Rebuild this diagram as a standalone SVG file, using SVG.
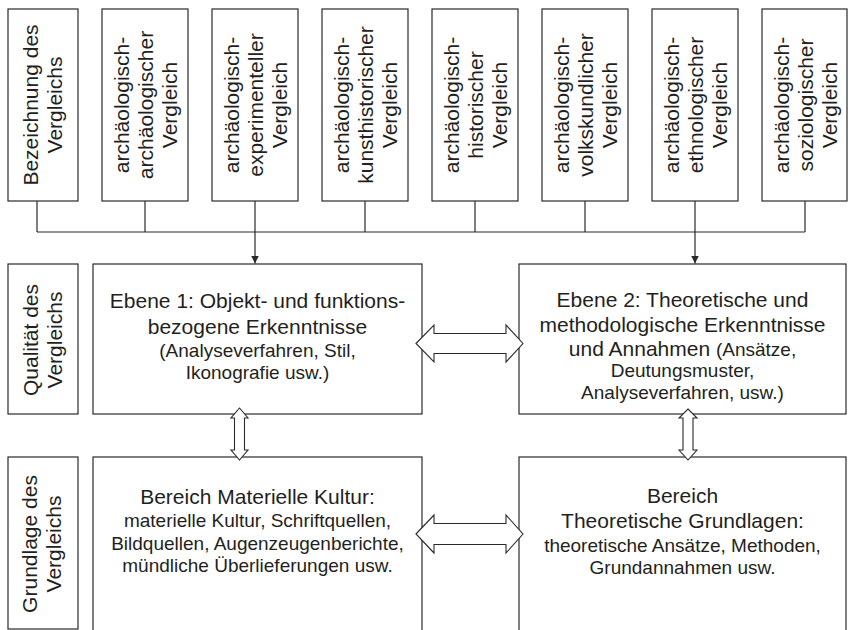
<svg xmlns="http://www.w3.org/2000/svg" width="848" height="630" viewBox="0 0 848 630">
<defs>
<style>
.box{fill:#fff;stroke:#2a2a2a;stroke-width:1.2}
.ln{fill:none;stroke:#2a2a2a;stroke-width:1.2}
.dbl{fill:#fff;stroke:#2a2a2a;stroke-width:1.1;stroke-linejoin:miter}
text{font-family:"Liberation Sans",Arial,Helvetica,sans-serif;fill:#231f20;text-anchor:middle}
.t21{font-size:21px}
.t19{font-size:19px}
</style>
<marker id="ah" markerWidth="10" markerHeight="10" refX="8" refY="4" orient="auto" markerUnits="userSpaceOnUse">
<path d="M0,0 L8,4 L0,8 Z" fill="#2a2a2a"/>
</marker>
</defs>
<rect width="848" height="630" fill="#fff"/>

<g id="top-bezeichnung"><rect class="box" x="8" y="9" width="70" height="192"/>
<text class="t21" transform="translate(43,105) rotate(-90)"><tspan x="0" y="-5">Bezeichnung des</tspan><tspan x="0" y="19">Vergleichs</tspan></text></g>
<g id="top-archaeologisch"><rect class="box" x="102" y="9" width="86" height="192"/>
<text class="t21" transform="translate(145,105) rotate(-90)"><tspan x="0" y="-16">archäologisch-</tspan><tspan x="0" y="8">archäologischer</tspan><tspan x="0" y="32">Vergleich</tspan></text></g>
<g id="top-experimentell"><rect class="box" x="212" y="9" width="86" height="192"/>
<text class="t21" transform="translate(255,105) rotate(-90)"><tspan x="0" y="-16">archäologisch-</tspan><tspan x="0" y="8">experimenteller</tspan><tspan x="0" y="32">Vergleich</tspan></text></g>
<g id="top-kunsthistorisch"><rect class="box" x="322" y="9" width="86" height="192"/>
<text class="t21" transform="translate(365,105) rotate(-90)"><tspan x="0" y="-16">archäologisch-</tspan><tspan x="0" y="8">kunsthistorischer</tspan><tspan x="0" y="32">Vergleich</tspan></text></g>
<g id="top-historisch"><rect class="box" x="432" y="9" width="86" height="192"/>
<text class="t21" transform="translate(475,105) rotate(-90)"><tspan x="0" y="-16">archäologisch-</tspan><tspan x="0" y="8">historischer</tspan><tspan x="0" y="32">Vergleich</tspan></text></g>
<g id="top-volkskundlich"><rect class="box" x="542" y="9" width="86" height="192"/>
<text class="t21" transform="translate(585,105) rotate(-90)"><tspan x="0" y="-16">archäologisch-</tspan><tspan x="0" y="8">volkskundlicher</tspan><tspan x="0" y="32">Vergleich</tspan></text></g>
<g id="top-ethnologisch"><rect class="box" x="652" y="9" width="86" height="192"/>
<text class="t21" transform="translate(695,105) rotate(-90)"><tspan x="0" y="-16">archäologisch-</tspan><tspan x="0" y="8">ethnologischer</tspan><tspan x="0" y="32">Vergleich</tspan></text></g>
<g id="top-soziologisch"><rect class="box" x="762" y="9" width="85" height="192"/>
<text class="t21" transform="translate(805,105) rotate(-90)"><tspan x="0" y="-16">archäologisch-</tspan><tspan x="0" y="8">soziologischer</tspan><tspan x="0" y="32">Vergleich</tspan></text></g>

<g id="qualitaet"><rect class="box" x="8" y="264" width="70" height="150"/>
<text class="t21" transform="translate(43,340) rotate(-90)"><tspan x="0" y="-5">Qualität des</tspan><tspan x="0" y="19">Vergleichs</tspan></text></g>
<g id="ebene1"><rect class="box" x="93" y="264" width="329" height="150"/>
<text x="257.5" y="308" class="t21">Ebene 1: Objekt- und funktions-</text>
<text x="257.5" y="334" class="t21">bezogene Erkenntnisse</text>
<text x="257.5" y="357" class="t19">(Analyseverfahren, Stil,</text>
<text x="257.5" y="379" class="t19">Ikonografie usw.)</text></g>
<g id="ebene2"><rect class="box" x="519" y="264" width="327" height="150"/>
<text x="682.5" y="307" class="t21">Ebene 2: Theoretische und</text>
<text x="682.5" y="332" class="t21">methodologische Erkenntnisse</text>
<text x="682.5" y="356" class="t21">und Annahmen <tspan class="t19">(Ansätze,</tspan></text>
<text x="682.5" y="377" class="t19">Deutungsmuster,</text>
<text x="682.5" y="399" class="t19">Analyseverfahren, usw.)</text></g>

<g id="grundlage"><rect class="box" x="8" y="457" width="70" height="172"/>
<text class="t21" transform="translate(43,544) rotate(-90)"><tspan x="0" y="-6">Grundlage des</tspan><tspan x="0" y="18">Vergleichs</tspan></text></g>
<g id="bereich-materiell"><rect class="box" x="93" y="457" width="329" height="200"/>
<text x="257.5" y="504" class="t21">Bereich Materielle Kultur:</text>
<text x="257.5" y="527" class="t19">materielle Kultur, Schriftquellen,</text>
<text x="257.5" y="550" class="t19">Bildquellen, Augenzeugenberichte,</text>
<text x="257.5" y="572" class="t19">mündliche Überlieferungen usw.</text></g>
<g id="bereich-theoretisch"><rect class="box" x="519" y="457" width="327" height="200"/>
<text x="682.5" y="503" class="t21">Bereich</text>
<text x="682.5" y="528" class="t21">Theoretische Grundlagen:</text>
<text x="682.5" y="552" class="t19">theoretische Ansätze, Methoden,</text>
<text x="682.5" y="574" class="t19">Grundannahmen usw.</text></g>

<g id="connectors">
<path class="ln" d="M37,201 V232 M145,201 V232 M255,201 V232 M365,201 V232 M475,201 V232 M585,201 V232 M695,201 V232 M805,201 V232 M37,232 H805"/>
<line class="ln" x1="255" y1="232" x2="255" y2="263.5" marker-end="url(#ah)"/>
<line class="ln" x1="695" y1="232" x2="695" y2="263.5" marker-end="url(#ah)"/>
<polygon class="dbl" points="416,343.5 434,325 434,333.5 506,333.5 506,325 523,343.5 506,362 506,353.5 434,353.5 434,362"/>
<polygon class="dbl" points="416,534 434,515 434,523.5 506,523.5 506,515 523,534 506,553 506,544.5 434,544.5 434,553"/>
<polygon class="dbl" points="239.5,408 248,418 244.5,418 244.5,450 248,450 239.5,460 231,450 234.5,450 234.5,418 231,418"/>
<polygon class="dbl" points="688,409 697,418 693,418 693,450 697,450 688,460 679,450 683,450 683,418 679,418"/>
</g>
</svg>
